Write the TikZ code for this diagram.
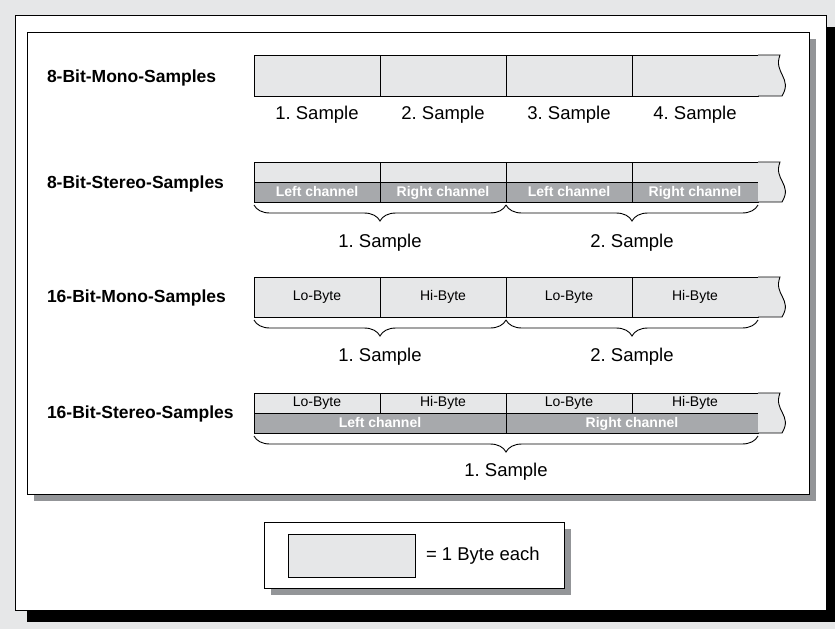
\documentclass[tikz,border=0pt]{standalone}
\usepackage{fontspec}
\setmainfont{Liberation Sans}
\usepackage{tikz}
\usetikzlibrary{positioning, decorations.pathreplacing, shadows}
\definecolor{bggray}{HTML}{E6E7E8}
\definecolor{bytegray}{HTML}{E6E7E8}
\definecolor{chgray}{HTML}{A7A9AC}
\definecolor{shadegray}{HTML}{939598}
\frenchspacing

\begin{document}
\begin{tikzpicture}
  [x=1pt, y=-1pt, line width=0.9pt,
   every node/.style={inner sep=0pt, outer sep=0pt},
   panel/.style={draw, fill=white, anchor=north west},
   byte/.style={draw, fill=bytegray, minimum width=126pt,
     font=\fontsize{14}{16}\selectfont, text height=10pt, text depth=3pt},
   chband/.style={draw, fill=chgray, minimum width=126pt, minimum height=20pt,
     text=white, font=\fontsize{14}{16}\selectfont\bfseries,
     text height=10pt, text depth=2pt},
   tailend/.style={draw, fill=bytegray},
   rowtitle/.style={anchor=base west, font=\fontsize{17.5}{20}\selectfont\bfseries},
   sample/.style={anchor=base, font=\fontsize{18.5}{21}\selectfont},
   samplebrace/.style={decorate, decoration={brace, mirror, amplitude=16pt}}]
  \useasboundingbox (0,0) rectangle (835,629);
  \fill[bggray] (0,0) rectangle (835,629);

  % frames
  \node[panel, minimum width=811pt, minimum height=595pt,
    drop shadow={shadow xshift=12pt, shadow yshift=-12pt, fill=black, opacity=1}]
    (outer) at (15,15) {};
  \node[panel, minimum width=782pt, minimum height=462pt,
    drop shadow={shadow xshift=7pt, shadow yshift=-7pt, fill=shadegray, opacity=1}]
    (inner) at (27,32) {};

  % 8 bit mono
  \node[rowtitle] (t1) at (47,82) {8-Bit-Mono-Samples};
  \node[byte, minimum height=41pt, anchor=north west] (m1) at (254,55) {};
  \node[byte, minimum height=41pt, right=0pt of m1] (m2) {};
  \node[byte, minimum height=41pt, right=0pt of m2] (m3) {};
  \node[byte, minimum height=41pt, right=0pt of m3] (m4) {};
  \filldraw[tailend] (m4.north east) -- (780,55) .. controls (773,73) and (793,78) .. (782,96) -- (m4.south east);
  \node[sample] (ms1) at (317,119) {1. Sample};
  \node[sample] (ms2) at (443,119) {2. Sample};
  \node[sample] (ms3) at (569,119) {3. Sample};
  \node[sample] (ms4) at (695,119) {4. Sample};

  % 8 bit stereo
  \node[rowtitle] (t2) at (47,188) {8-Bit-Stereo-Samples};
  \node[byte, minimum height=20pt, anchor=north west] (s1) at (254,162) {};
  \node[byte, minimum height=20pt, right=0pt of s1] (s2) {};
  \node[byte, minimum height=20pt, right=0pt of s2] (s3) {};
  \node[byte, minimum height=20pt, right=0pt of s3] (s4) {};
  \node[chband, below=0pt of s1] (sl1) {Left channel};
  \node[chband, below=0pt of s2] (sl2) {Right channel};
  \node[chband, below=0pt of s3] (sl3) {Left channel};
  \node[chband, below=0pt of s4] (sl4) {Right channel};
  \filldraw[tailend] (s4.north east) -- (780,162) .. controls (773,180) and (793,184) .. (782,202) -- (sl4.south east);
  \draw[samplebrace] ([yshift=-3pt]sl1.south west) -- ([yshift=-3pt]sl2.south east);
  \draw[samplebrace] ([yshift=-3pt]sl3.south west) -- ([yshift=-3pt]sl4.south east);
  \node[sample] (ss1) at (380,247) {1. Sample};
  \node[sample] (ss2) at (632,247) {2. Sample};

  % 16 bit mono
  \node[rowtitle] (t3) at (47,302) {16-Bit-Mono-Samples};
  \node[byte, minimum height=40pt, anchor=north west] (w1) at (254,277) {Lo-Byte};
  \node[byte, minimum height=40pt, right=0pt of w1] (w2) {Hi-Byte};
  \node[byte, minimum height=40pt, right=0pt of w2] (w3) {Lo-Byte};
  \node[byte, minimum height=40pt, right=0pt of w3] (w4) {Hi-Byte};
  \filldraw[tailend] (w4.north east) -- (780,277) .. controls (773,295) and (793,299) .. (782,317) -- (w4.south east);
  \draw[samplebrace] ([yshift=-3pt]w1.south west) -- ([yshift=-3pt]w2.south east);
  \draw[samplebrace] ([yshift=-3pt]w3.south west) -- ([yshift=-3pt]w4.south east);
  \node[sample] (ws1) at (380,361) {1. Sample};
  \node[sample] (ws2) at (632,361) {2. Sample};

  % 16 bit stereo
  \node[rowtitle] (t4) at (47,418) {16-Bit-Stereo-Samples};
  \node[byte, minimum height=20pt, anchor=north west] (b1) at (254,393) {Lo-Byte};
  \node[byte, minimum height=20pt, right=0pt of b1] (b2) {Hi-Byte};
  \node[byte, minimum height=20pt, right=0pt of b2] (b3) {Lo-Byte};
  \node[byte, minimum height=20pt, right=0pt of b3] (b4) {Hi-Byte};
  \node[chband, minimum width=252pt, anchor=north west] (left) at (b1.south west) {Left channel};
  \node[chband, minimum width=252pt, anchor=north west] (right) at (b3.south west) {Right channel};
  \filldraw[tailend] (b4.north east) -- (780,393) .. controls (773,411) and (793,415) .. (782,433) -- (right.south east);
  \draw[samplebrace] ([yshift=-3pt]left.south west) -- ([yshift=-3pt]right.south east);
  \node[sample] (bs1) at (506,476) {1. Sample};

  % key
  \node[panel, minimum width=300pt, minimum height=66pt,
    drop shadow={shadow xshift=7pt, shadow yshift=-7pt, fill=shadegray, opacity=1}]
    (key) at (264,522) {};
  \node[byte, minimum width=127pt, minimum height=43pt, anchor=north west] (keybyte) at (288,534) {};
  \node[right=11pt of keybyte, font=\fontsize{18.5}{22}\selectfont] (keytext) {= 1 Byte each};
\end{tikzpicture}
\end{document}
